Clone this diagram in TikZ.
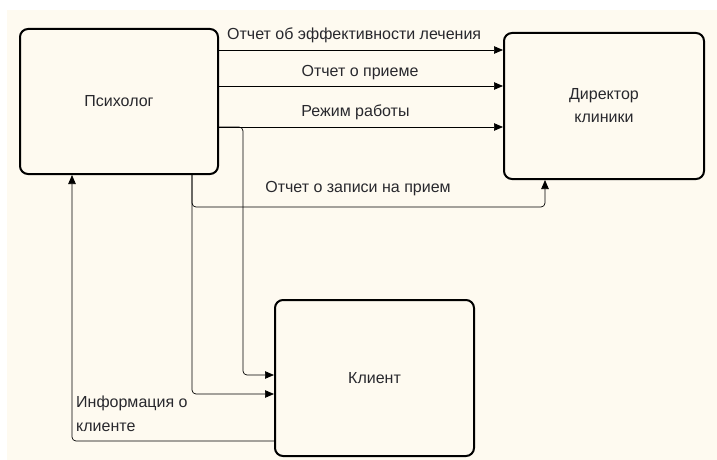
\documentclass[tikz,border=0pt]{standalone}
\usepackage{fontspec}
\setmainfont{Liberation Sans}
\usetikzlibrary{arrows.meta}
\definecolor{bgcream}{RGB}{254,250,240}
\definecolor{txt}{RGB}{40,40,45}
\begin{document}
\begin{tikzpicture}[x=1pt,y=-1pt,
  box/.style={draw=black,line width=2pt,rounded corners=8pt,fill=bgcream,inner sep=0pt,font=\fontsize{16}{23}\selectfont,text=txt,align=center},
  conn/.style={draw=black,line width=0.7pt,rounded corners=4pt,-{Triangle[length=9pt,width=7.5pt]}},
  lbl/.style={font=\fontsize{16}{24}\selectfont,text=txt,inner sep=0pt,align=left}]
\useasboundingbox (0,0) rectangle (717,460);
\fill[white] (0,0) rectangle (717,460);
\fill[bgcream] (7,10) rectangle (717,460);
\node[box,minimum width=198pt,minimum height=145pt] (psy) at (119,101.5) {Психолог};
\node[box,minimum width=200pt,minimum height=146pt] (dir) at (604,106) {Директор\\клиники};
\node[box,minimum width=199pt,minimum height=156pt] (cli) at (374.5,378) {Клиент};
\coordinate (r1) at (0,50);
\coordinate (r2) at (0,86);
\coordinate (r3) at (0,127);
\coordinate (b1) at (243,127);
\coordinate (b1d) at (243,375);
\coordinate (c2) at (192,207);
\coordinate (c2e) at (545,207);
\coordinate (c3) at (192,394);
\coordinate (c4) at (72,441);
\draw[conn] (psy.east |- r1) -- (dir.west |- r1);
\draw[conn] (psy.east |- r2) -- (dir.west |- r2);
\draw[conn] (psy.east |- r3) -- (dir.west |- r3);
\draw[conn] (psy.east |- r3) -- (b1) -- (b1d) -- (cli.west |- b1d);
\draw[conn] (psy.south -| c2) -- (c2) -- (c2e) -- (dir.south -| c2e);
\draw[conn] (psy.south -| c3) -- (c3) -- (cli.west |- c3);
\draw[conn] (cli.west |- c4) -- (c4) -- (psy.south -| c4);
\node[lbl,anchor=west] (l1) at (227,35) {Отчет об эффективности лечения};
\node[lbl] (l2) at (360,73) {Отчет о приеме};
\node[lbl] (l3) at (355.5,112) {Режим работы};
\node[lbl] (l4) at (358,189) {Отчет о записи на прием};
\node[lbl,anchor=north west] (l5) at (76,396) {Информация о\\клиенте};
\end{tikzpicture}
\end{document}
